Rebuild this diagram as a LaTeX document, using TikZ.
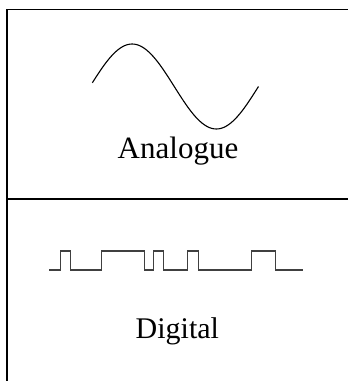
\documentclass[tikz,border=0pt]{standalone}
\usepackage{fontspec}
\setmainfont{Liberation Serif}
\usepackage{tikz}
\tikzset{
	frameline/.style = {black, line width=1.4pt},
	wave/.style = {black, line width=1.1pt, line join=round},
	pulse/.style = {black!75, line width=1.3pt},
	captext/.style = {anchor=base, inner sep=0pt, font=\fontsize{31}{36}\selectfont}
}

\begin{document}
\begin{tikzpicture}[x=1pt, y=-1pt]
\useasboundingbox (0,0) rectangle (348,381);
% cell borders
\coordinate (tl) at (7,9.5);
\coordinate (tr) at (348,9.5);
\coordinate (ml) at (7,199);
\coordinate (mr) at (348,199);
\coordinate (bl) at (7,381);
\draw[frameline] (tr) -- (tl) -- (bl);
\draw[frameline, line width=1.2pt] (ml) -- (mr);
% analogue
\draw[wave] plot[domain=5:360, smooth, samples=72] ({90+0.468*\x}, {86.5-42.5*sin(\x)});
\node[captext] (analogue) at (178,158) {Analogue};
% digital
\draw[pulse] (49,270) -- (60.7,270) -- (60.7,251) -- (70.7,251) -- (70.7,270)
	-- (101.5,270) -- (101.5,251) -- (144.2,251) -- (144.2,270)
	-- (153.3,270) -- (153.3,251) -- (163.7,251) -- (163.7,270)
	-- (187.5,270) -- (187.5,251) -- (198.3,251) -- (198.3,270)
	-- (251.7,270) -- (251.7,251) -- (275.7,251) -- (275.7,270) -- (303.3,270);
\node[captext, font=\fontsize{30}{36}\selectfont] (digital) at (177.4,338) {Digital};
\end{tikzpicture}
\end{document}
